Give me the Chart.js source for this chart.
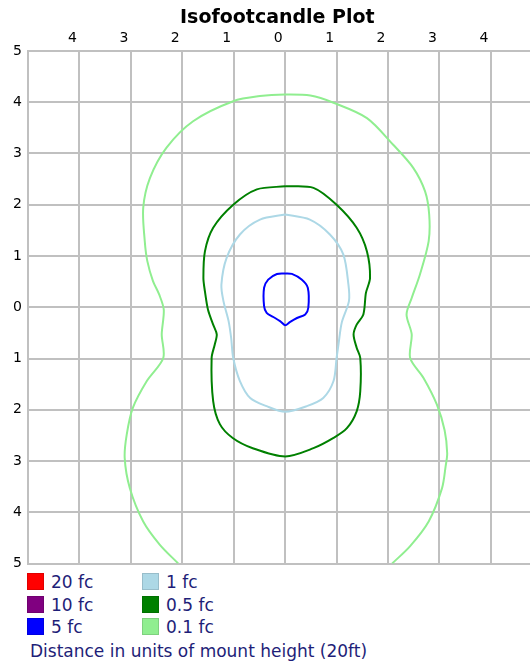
<!DOCTYPE html>
<html lang="en">
<head>
  <meta charset="UTF-8" />
  <title>Isofootcandle Plot</title>
  <script src="https://cdn.jsdelivr.net/npm/chart.js"></script>
  <style>
    body { margin: 0; background: #fff; }
    #wrap { position: relative; width: 530px; height: 664px; overflow: hidden; font-family: "DejaVu Sans", sans-serif; }
    #chartBox { position: absolute; left: 0; top: 0; width: 530px; height: 567px; }
    #title { position: absolute; left: 180px; top: 5px; font-size: 19px; font-weight: bold; color: #000; white-space: nowrap; line-height: 22px; }
    .key { position: absolute; height: 17px; display: flex; align-items: center; font-size: 17px; color: #1e1e78; white-space: nowrap; }
    .key span.box { width: 17px; height: 17px; box-sizing: border-box; border: 1px solid rgba(0,0,0,0.12); margin-right: 7px; }
    #note { position: absolute; left: 30px; top: 641px; font-size: 17px; color: #1e1e78; white-space: nowrap; line-height: 20px; }
  </style>
</head>
<body>
<div id="wrap">
  <div id="chartBox"><canvas id="isoChart"></canvas></div>
  <div id="title">Isofootcandle Plot</div>
  <div id="legend"></div>
  <div id="note">Distance in units of mount height (20ft)</div>
</div>

<script>
  // contour levels
  const levelNames = ['20 fc', '10 fc', '5 fc', '1 fc', '0.5 fc', '0.1 fc'];
  const levelColors = ['#ff0000', '#800080', '#0000ff', '#add8e6', '#008000', '#90ee90'];

  // tick values (units of mount height)
  const xTicks = [-5, -4, -3, -2, -1, 0, 1, 2, 3, 4];
  const yTicks = [-5, -4, -3, -2, -1, 0, 1, 2, 3, 4, 5];

  // contour points
  const fc20X = [];
  const fc20Y = [];
  const fc10X = [];
  const fc10Y = [];

  const fc5X = [0, 0.13, 0.32, 0.44, 0.45, 0.39, 0.23, 0.09, 0, -0.10, -0.23, -0.36, -0.41, -0.41, -0.33, -0.16, 0];
  const fc5Y = [0.66, 0.65, 0.54, 0.38, -0.01, -0.14, -0.21, -0.29, -0.35, -0.27, -0.19, -0.11, 0.02, 0.38, 0.54, 0.65, 0.66];

  const fc1X = [0, 0.48, 0.87, 1.13, 1.23, 1.24, 1.10, 1.04, 1.00, 0.94, 0.74, 0.42, 0, -0.36, -0.68, -0.88, -1.01, -1.05, -1.10, -1.20, -1.24, -1.14, -0.88, -0.49, 0];
  const fc1Y = [1.81, 1.71, 1.42, 1.03, 0.44, 0.12, -0.30, -0.70, -0.99, -1.44, -1.77, -1.93, -2.04, -1.93, -1.77, -1.44, -0.99, -0.60, -0.27, 0.12, 0.44, 0.96, 1.42, 1.71, 1.81];

  const fc05X = [0, 0.55, 1.00, 1.39, 1.59, 1.65, 1.57, 1.52, 1.39, 1.33, 1.39, 1.46, 1.46, 1.39, 1.20, 0.94, 0.55, 0, -0.63, -1.02, -1.27, -1.40, -1.43, -1.37, -1.33, -1.40, -1.50, -1.56, -1.59, -1.56, -1.40, -1.01, -0.55, 0];
  const fc05Y = [2.36, 2.33, 2.00, 1.55, 1.09, 0.57, 0.28, -0.14, -0.34, -0.53, -0.79, -0.99, -1.64, -2.03, -2.36, -2.55, -2.75, -2.91, -2.75, -2.55, -2.28, -1.83, -0.99, -0.73, -0.53, -0.34, -0.05, 0.31, 0.57, 1.09, 1.55, 2.00, 2.30, 2.36];

  const fc01X = [-2.08, -2.44, -2.76, -3.02, -3.12, -3.08, -2.96, -2.69, -2.37, -2.40, -2.36, -2.45, -2.57, -2.68, -2.73, -2.76, -2.63, -2.31, -1.79, -1.01, -0.49, 0, 0.49, 0.94, 1.59, 2.10, 2.49, 2.72, 2.80, 2.79, 2.62, 2.46, 2.36, 2.46, 2.43, 2.69, 2.95, 3.10, 3.15, 3.12, 3.05, 2.79, 2.43, 2.08];
  const fc01Y = [-5.00, -4.63, -4.18, -3.53, -2.94, -2.48, -1.96, -1.44, -0.99, -0.53, -0.05, 0.25, 0.51, 0.90, 1.29, 1.94, 2.52, 3.11, 3.63, 4.02, 4.12, 4.15, 4.13, 3.99, 3.69, 3.17, 2.72, 2.26, 1.81, 1.29, 0.64, 0.18, -0.14, -0.53, -0.99, -1.38, -1.90, -2.40, -2.85, -3.10, -3.53, -4.18, -4.66, -5.00];

  const xsList = [fc20X, fc10X, fc5X, fc1X, fc05X, fc01X];
  const ysList = [fc20Y, fc10Y, fc5Y, fc1Y, fc05Y, fc01Y];

  function toPoints(xs, ys) {
    return xs.map((x, i) => ({ x: x, y: ys[i] }));
  }

  const datasets = levelNames.map((name, i) => ({
    label: name,
    data: toPoints(xsList[i], ysList[i]),
    borderColor: levelColors[i],
    borderWidth: 2,
    showLine: true,
    pointRadius: 0,
    tension: 0.3,
    fill: false
  }));

  const tickFont = { family: "'DejaVu Sans', sans-serif", size: 14 };
  const gridStyle = { color: '#c0c0c0', lineWidth: 2, drawTicks: false };

  // no extra room for end labels: the plot must fill the box
  function noPad(s) {
    s.paddingTop = 0; s.paddingBottom = 0; s.paddingLeft = 0; s.paddingRight = 0;
  }

  new Chart(document.getElementById('isoChart'), {
    type: 'scatter',
    data: { datasets: datasets },
    options: {
      responsive: true,
      maintainAspectRatio: false,
      animation: false,
      events: [],
      layout: { padding: { left: 0, right: 0, top: 0, bottom: 3.5 } },
      plugins: {
        legend: { display: false },
        tooltip: { enabled: false },
        title: { display: false }
      },
      scales: {
        x: {
          type: 'linear',
          position: 'top',
          min: -5,
          max: 4.76,
          afterBuildTicks: s => { s.ticks = xTicks.map(v => ({ value: v })); },
          afterFit: s => { s.height = 51; noPad(s); },
          ticks: {
            callback: v => (v === -5 ? '' : String(Math.abs(v))),
            labelOffset: -7,
            padding: 4,
            maxRotation: 0,
            autoSkip: false,
            color: '#000',
            font: tickFont
          },
          grid: gridStyle,
          border: { color: '#c0c0c0', width: 2 }
        },
        y: {
          type: 'linear',
          min: -5,
          max: 5,
          afterBuildTicks: s => { s.ticks = yTicks.map(v => ({ value: v })); },
          afterFit: s => { s.width = 28; noPad(s); },
          ticks: {
            callback: v => String(Math.abs(v)),
            padding: 6,
            autoSkip: false,
            color: '#000',
            font: tickFont
          },
          grid: gridStyle,
          border: { color: '#c0c0c0', width: 2 }
        }
      }
    }
  });

  // legend, two columns of three
  const legendDiv = document.getElementById('legend');
  const colLeft = [27, 142];
  const rowTop = [573, 596, 618];
  levelNames.forEach((name, i) => {
    const item = document.createElement('div');
    item.className = 'key';
    item.style.left = colLeft[Math.floor(i / 3)] + 'px';
    item.style.top = rowTop[i % 3] + 'px';
    item.innerHTML = `<span class="box" style="background:${levelColors[i]}"></span>${name}`;
    legendDiv.appendChild(item);
  });
</script>
</body>
</html>
